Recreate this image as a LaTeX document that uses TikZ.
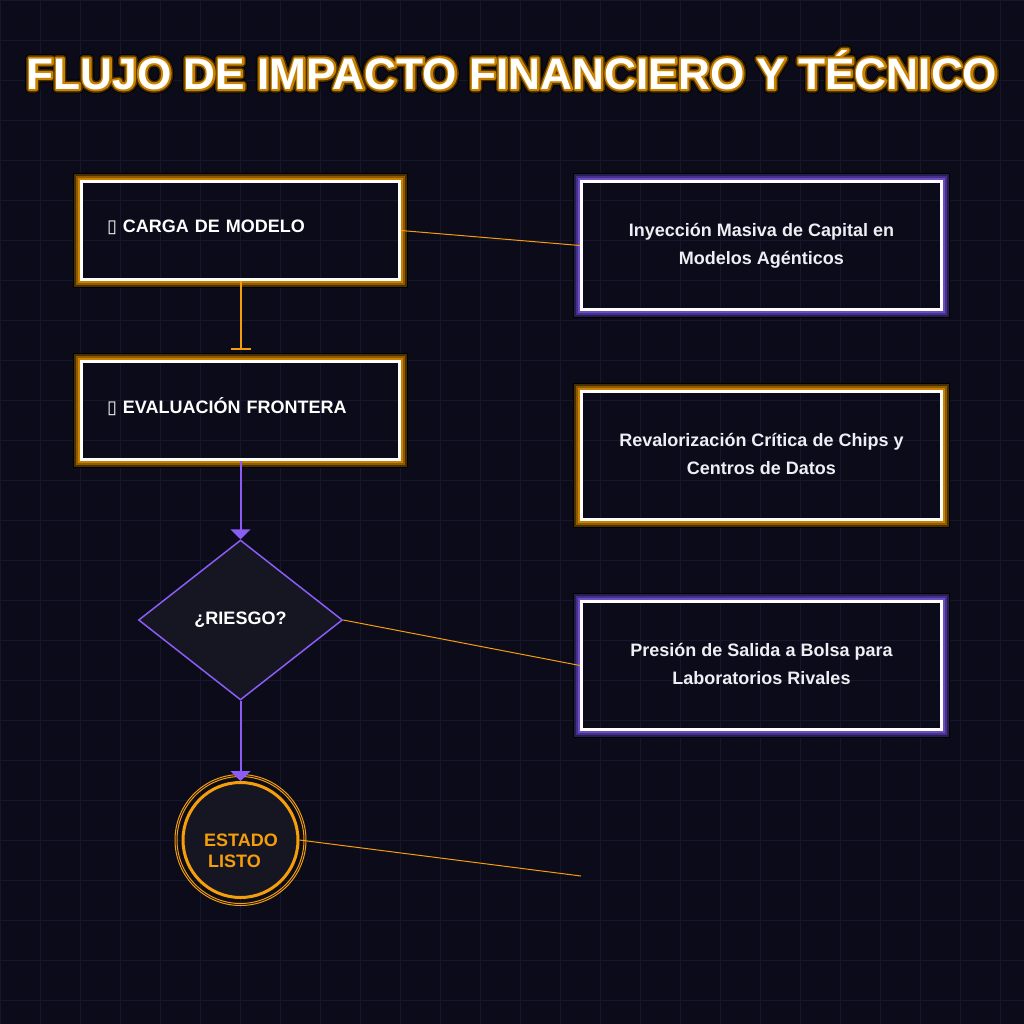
\documentclass[tikz,border=0pt]{standalone}
\usepackage{fontspec}
\setmainfont{Liberation Sans}
\newfontfamily\symfont{DejaVu Sans}
\newfontfamily\rimblack{Liberation Sans Bold}[FakeBold=20]
\newfontfamily\rimbrown{Liberation Sans Bold}[FakeBold=16]
\newfontfamily\rimamber{Liberation Sans Bold}[FakeBold=9]
\usepackage{tikz}
\usetikzlibrary{arrows.meta,positioning,shapes.geometric,calc}
\definecolor{bgnight}{HTML}{0B0B1A}
\definecolor{gridline}{HTML}{17162C}
\definecolor{amber}{HTML}{F59E0B}
\definecolor{violet}{HTML}{8B5CF6}
\definecolor{ambdark}{HTML}{4A2F00}
\definecolor{ambmid}{HTML}{8F5B00}
\definecolor{amblite}{HTML}{C98200}
\definecolor{viodark}{HTML}{281D52}
\definecolor{viomid}{HTML}{45318A}
\definecolor{violite}{HTML}{6A4DC2}
\definecolor{shapefill}{HTML}{161622}
\definecolor{softwhite}{HTML}{EEEEF4}

% glow frame round a box node: #1 node, #2 colour prefix
\newcommand{\glowbox}[2]{%
  \foreach \off/\wid/\col in {6.5/0.5pt/black,5/1pt/#2dark,3/1pt/#2mid,1/1pt/#2lite}
    \draw[\col,line width=\wid] ($(#1.south west)+(-\off,\off)$) rectangle ($(#1.north east)+(\off,-\off)$);%
}

\tikzset{
  headline/.style={anchor=base,inner sep=0pt,text=white,line join=round,font=\bfseries\fontsize{22.1}{26}\selectfont},
  stage/.style={draw=white,line width=1.5pt,minimum width=159pt,minimum height=49pt,text width=133.5pt,
    inner xsep=12.75pt,align=left,text depth=4.5pt,text=white,font=\bfseries\fontsize{9}{11}\selectfont},
  impact/.style={draw=white,line width=1.5pt,minimum width=180pt,minimum height=64pt,align=center,
    text depth=2pt,text=softwhite,font=\bfseries\fontsize{9}{14}\selectfont},
  decision/.style={diamond,draw=violet,line width=0.75pt,fill=shapefill,minimum width=102pt,minimum height=80pt,
    inner sep=0pt,text=white,font=\bfseries\fontsize{9}{11}\selectfont},
  ready/.style={circle,draw=amber,line width=1.5pt,fill=shapefill,minimum size=57.5pt,inner sep=0pt},
  flow/.style={line width=1pt},
  link/.style={amber,line width=0.5pt},
}

\begin{document}
\begin{tikzpicture}[x=0.5pt,y=-0.5pt]
\useasboundingbox (0,0) rectangle (1024,1024);
\fill[bgnight] (0,0) rectangle (1024,1024);
\foreach \g in {0,40,...,1000} {
  \draw[gridline,line width=0.5pt] (\g,0) -- (\g,1024);
  \draw[gridline,line width=0.5pt] (0,\g) -- (1024,\g);
}

% title, outlined in three passes
\coordinate (titlebase) at (512,89);
\node[headline,text=black,font=\rimblack\fontsize{22.1}{26}\selectfont\pgfsetroundjoin] (rim1) at (titlebase) {FLUJO DE IMPACTO FINANCIERO Y TÉCNICO};
\node[headline,text=ambdark,font=\rimbrown\fontsize{22.1}{26}\selectfont\pgfsetroundjoin] (rim2) at (titlebase) {FLUJO DE IMPACTO FINANCIERO Y TÉCNICO};
\node[headline,text=amblite,font=\rimamber\fontsize{22.1}{26}\selectfont\pgfsetroundjoin] (rim3) at (titlebase) {FLUJO DE IMPACTO FINANCIERO Y TÉCNICO};
\node[headline] (title) at (titlebase) {FLUJO DE IMPACTO FINANCIERO Y TÉCNICO};

% left column
\node[stage] (load) at (240.5,230.5) {{\symfont ▯} CARGA DE MODELO};
\node[stage] (eval) at (240.5,410.5) {{\symfont ▯} EVALUACIÓN FRONTERA};
\glowbox{load}{amb}
\glowbox{eval}{amb}
\node[decision] (risk) at (240.5,620) {¿RIESGO?};
\node[ready] (done) at (240.5,840) {};
\draw[amber,line width=0.5pt] (done.center) circle[radius=31.75pt];
\draw[amber,line width=0.5pt] (done.center) circle[radius=32.75pt];
\node[text=amber,align=center,font=\bfseries\fontsize{9}{10.5}\selectfont] (donetext) at (241,851) {ESTADO\\LISTO\hspace*{6.5pt}};

% right column
\node[impact] (capital) at (761.5,245.5) {Inyección Masiva de Capital en\\Modelos Agénticos};
\node[impact] (chips) at (761.5,455.5) {Revalorización Crítica de Chips y\\Centros de Datos};
\node[impact] (ipo) at (761.5,665.5) {Presión de Salida a Bolsa para\\Laboratorios Rivales};
\glowbox{capital}{vio}
\glowbox{chips}{amb}
\glowbox{ipo}{vio}

% connectors
\draw[flow,amber,-{Bar[width=10pt]},shorten >=5pt] (load) -- (eval);
\draw[flow,violet,-{Triangle[width=10pt,length=5pt]}] (eval) -- (risk);
\draw[flow,violet,-{Triangle[width=10pt,length=5pt]}] (risk) -- (done);
\draw[link] (load.east) -- (capital.west);
\draw[link] (risk.east) -- (ipo.west);
\coordinate (loose) at (581,876);
\draw[link] (done.east) -- (loose);
\end{tikzpicture}
\end{document}
